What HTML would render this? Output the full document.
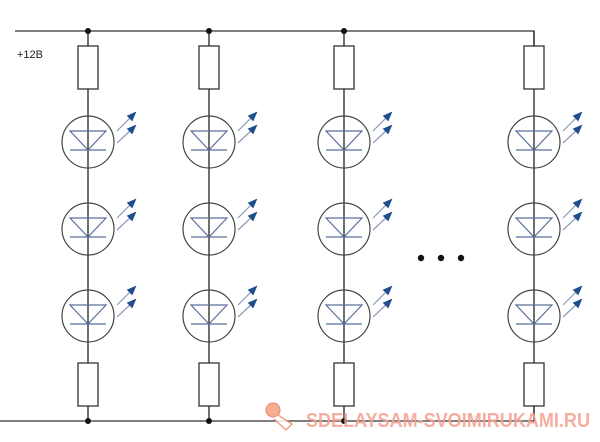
<!DOCTYPE html>
<html><head><style>body{margin:0;background:#fff}svg{display:block}</style></head><body>
<svg width="600" height="442" viewBox="0 0 600 442" xmlns="http://www.w3.org/2000/svg">
<defs>
<g id="l">
<circle cx="0" cy="142" r="26" fill="none" stroke="#444" stroke-width="1.2"/>
<path d="M-18 131 H18 L0 150 Z M-18 150 H18" fill="none" stroke="#5a6f9a" stroke-width="1.2"/>
<path d="M29 131 L45 115 M29 143 L45 128" stroke="#8a9ab8" stroke-width="1.2"/>
<path d="M47 113 L40 116 L44 120 Z M47 126 L40 129 L44 133 Z" fill="#1f4e8c" stroke="#1f4e8c" stroke-width="1.5"/>
</g>
<g id="c">
<line x1="0" y1="31" x2="0" y2="421" stroke="#222" stroke-width="1.3"/>
<rect x="-10" y="46" width="20" height="43" fill="#fff" stroke="#333" stroke-width="1.3"/>
<rect x="-10" y="363" width="20" height="43" fill="#fff" stroke="#333" stroke-width="1.3"/>
<use href="#l"/>
<use href="#l" y="87"/>
<use href="#l" y="174"/>
</g>
</defs>
<rect width="600" height="442" fill="#fff"/>
<g stroke="#333" stroke-width="1.3" fill="none">
<path d="M15 31 H534 V46"/>
<path d="M0 421 H534 V406"/>
</g>
<text x="17" y="58" font-family="Liberation Sans, sans-serif" font-size="11" fill="#222">+12B</text>
<use href="#c" x="88"/>
<use href="#c" x="209"/>
<use href="#c" x="344"/>
<use href="#c" x="534"/>
<g fill="#111">
<circle cx="88" cy="31" r="3"/><circle cx="209" cy="31" r="3"/><circle cx="344" cy="31" r="3"/>
<circle cx="88" cy="421" r="3"/><circle cx="209" cy="421" r="3"/><circle cx="344" cy="421" r="3"/>
<circle cx="421" cy="258" r="3.2"/><circle cx="441" cy="258" r="3.2"/><circle cx="461" cy="258" r="3.2"/>
</g>
<g opacity="0.85">
<circle cx="273" cy="410" r="7" fill="#f4a080" stroke="#e8704a"/>
<path d="M278 415 L292 424 L286 430 L274 419" fill="#fff" stroke="#f09070" stroke-width="1.5"/>
<text x="306" y="427" font-family="Liberation Sans, sans-serif" font-size="20" font-weight="bold" fill="#f4a090" textLength="284" lengthAdjust="spacingAndGlyphs">SDELAYSAM-SVOIMIRUKAMI.RU</text>
</g>
</svg>
</body></html>
